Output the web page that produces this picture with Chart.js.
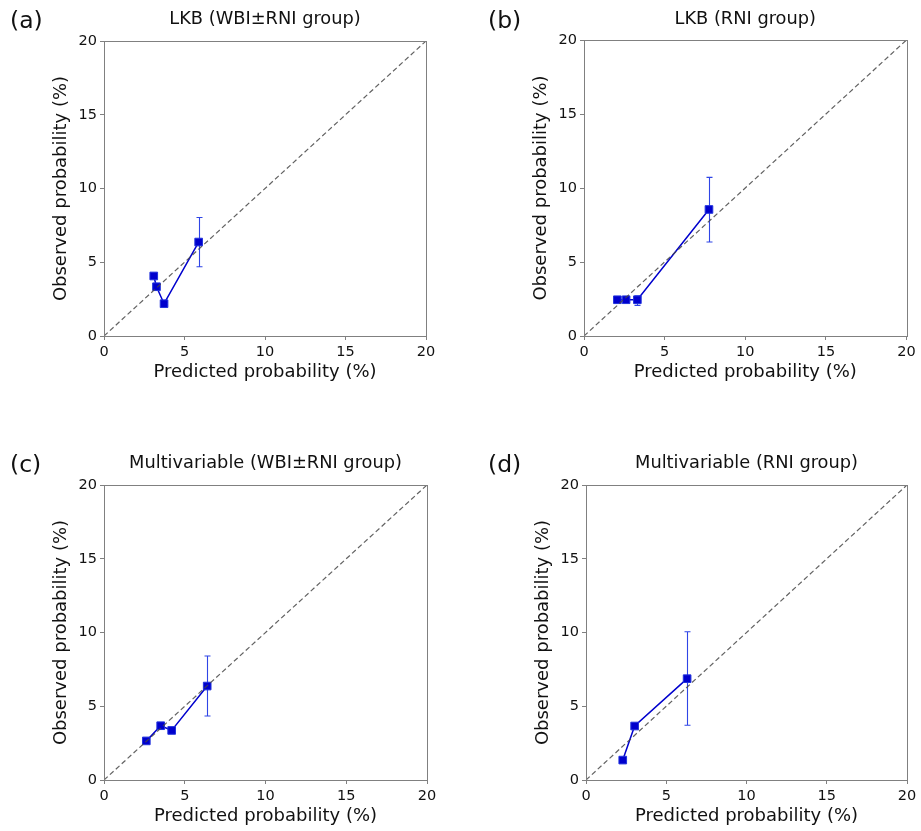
<!DOCTYPE html>
<html>
<head>
<meta charset="utf-8">
<script src="https://cdn.jsdelivr.net/npm/chart.js@4/dist/chart.umd.min.js"></script>
<style>
  html, body { margin: 0; padding: 0; background: #fff; }
  #wrap { position: relative; width: 921px; height: 831px; overflow: hidden; }
  .panel { position: absolute; }
</style>
</head>
<body>
<div id="wrap">
  <div class="panel" style="left:0;top:0;width:460px;height:400px"><canvas id="chartA"></canvas></div>
  <div class="panel" style="left:460px;top:0;width:461px;height:400px"><canvas id="chartB"></canvas></div>
  <div class="panel" style="left:0;top:444px;width:460px;height:387px"><canvas id="chartC"></canvas></div>
  <div class="panel" style="left:460px;top:444px;width:461px;height:387px"><canvas id="chartD"></canvas></div>
</div>
<script>
(() => {
  // values (percent)
  const lkbAllPred = [3.09, 3.26, 3.73, 5.88];
  const lkbAllObs = [4.07, 3.34, 2.19, 6.37];
  const lkbAllLo = [4.0, 3.25, 2.1, 4.7];
  const lkbAllHi = [4.15, 3.45, 2.3, 8.03];

  const lkbRniPred = [2.07, 2.61, 3.31, 7.75];
  const lkbRniObs = [2.45, 2.45, 2.45, 8.55];
  const lkbRniLo = [2.4, 2.4, 2.07, 6.35];
  const lkbRniHi = [2.5, 2.5, 2.72, 10.72];

  const mvAllPred = [2.62, 3.51, 4.19, 6.39];
  const mvAllObs = [2.65, 3.68, 3.36, 6.37];
  const mvAllLo = [2.5, 3.55, 3.3, 4.34];
  const mvAllHi = [2.8, 3.8, 3.42, 8.41];

  const mvRniPred = [2.29, 3.03, 6.3];
  const mvRniObs = [1.35, 3.66, 6.87];
  const mvRniLo = [1.2, 3.5, 3.71];
  const mvRniHi = [1.5, 3.82, 10.05];

  const refLine = [0, 20];
  const axisTicks = [0, 5, 10, 15, 20];

  const FONT = "'DejaVu Sans', Verdana, sans-serif";
  const BLUE = "#0000cd";
  const BAR = "#2f45e6";
  const SPINE = "#808080";

  const panels = [
    { id: "chartA", tag: "(a)", title: "LKB (WBI\u00b1RNI group)",
      pred: lkbAllPred, obs: lkbAllObs, lo: lkbAllLo, hi: lkbAllHi,
      w: 460, h: 400, left: 104, right: 426, top: 41, bottom: 336, tagX: 10, tagY: 22, titleY: 19 },
    { id: "chartB", tag: "(b)", title: "LKB (RNI group)",
      pred: lkbRniPred, obs: lkbRniObs, lo: lkbRniLo, hi: lkbRniHi,
      w: 461, h: 400, left: 124, right: 446.5, top: 40, bottom: 336, tagX: 28, tagY: 22, titleY: 19 },
    { id: "chartC", tag: "(c)", title: "Multivariable (WBI\u00b1RNI group)",
      pred: mvAllPred, obs: mvAllObs, lo: mvAllLo, hi: mvAllHi,
      w: 460, h: 387, left: 104, right: 427, top: 41, bottom: 336, tagX: 10, tagY: 22, titleY: 19 },
    { id: "chartD", tag: "(d)", title: "Multivariable (RNI group)",
      pred: mvRniPred, obs: mvRniObs, lo: mvRniLo, hi: mvRniHi,
      w: 461, h: 387, left: 126, right: 447, top: 41, bottom: 336, tagX: 28, tagY: 22, titleY: 19 }
  ];

  const boxAndLabels = {
    id: "boxAndLabels",
    beforeDatasetsDraw(chart) {
      const { ctx } = chart;
      const p = chart.options.plugins.boxAndLabels;
      const xs = chart.scales.x, ys = chart.scales.y;
      ctx.save();
      // error bars under the markers
      ctx.strokeStyle = BAR;
      ctx.lineWidth = 1.1;
      p.pred.forEach((v, i) => {
        const x = Math.round(xs.getPixelForValue(v)) + 0.5;
        const y1 = ys.getPixelForValue(p.lo[i]);
        const y2 = ys.getPixelForValue(p.hi[i]);
        ctx.beginPath();
        ctx.moveTo(x, y1); ctx.lineTo(x, y2);
        ctx.moveTo(x - 3, y1); ctx.lineTo(x + 3, y1);
        ctx.moveTo(x - 3, y2); ctx.lineTo(x + 3, y2);
        ctx.stroke();
      });
      ctx.restore();
    },
    afterDraw(chart) {
      const { ctx, chartArea: a } = chart;
      const p = chart.options.plugins.boxAndLabels;
      ctx.save();
      ctx.strokeStyle = SPINE;
      ctx.lineWidth = 1;
      ctx.strokeRect(Math.round(a.left) + 0.5, Math.round(a.top) + 0.5,
        Math.round(a.right - a.left), Math.round(a.bottom - a.top));
      ctx.fillStyle = "#111";
      ctx.textBaseline = "middle";
      ctx.textAlign = "left";
      ctx.font = "23.5px " + FONT;
      ctx.fillText(p.tag, p.tagX, p.tagY);
      ctx.textAlign = "center";
      ctx.font = "17.8px " + FONT;
      ctx.fillText(p.title, (a.left + a.right) / 2, p.titleY);
      ctx.restore();
    }
  };

  panels.forEach((p) => {
    const titleLh = 21;
    new Chart(document.getElementById(p.id), {
      type: "scatter",
      data: {
        datasets: [
          {
            data: refLine.map((v) => ({ x: v, y: v })),
            showLine: true,
            borderColor: "rgba(70, 70, 70, 0.85)",
            borderWidth: 1.2,
            borderDash: [5, 3],
            pointRadius: 0
          },
          {
            data: p.pred.map((v, i) => ({ x: v, y: p.obs[i] })),
            showLine: true,
            borderColor: BLUE,
            borderWidth: 1.5,
            pointStyle: "rect",
            pointRadius: 5.4,
            pointBackgroundColor: BLUE,
            pointBorderColor: "#2233dd",
            pointBorderWidth: 1
          }
        ]
      },
      options: {
        responsive: true,
        maintainAspectRatio: false,
        animation: false,
        events: [],
        layout: {
          padding: { left: 0, top: p.top, right: p.w - p.right, bottom: 0 }
        },
        plugins: {
          legend: { display: false },
          tooltip: { enabled: false },
          boxAndLabels: p
        },
        scales: {
          x: {
            type: "linear",
            min: 0,
            max: 20,
            afterBuildTicks(scale) { scale.ticks = axisTicks.map((v) => ({ value: v })); },
            afterFit(scale) { scale.height = p.h - p.bottom; },
            ticks: { color: "#111", font: { family: FONT, size: 14.5 }, padding: 4, maxRotation: 0 },
            grid: { drawOnChartArea: false, tickLength: 4, color: SPINE },
            border: { color: SPINE },
            title: {
              display: true,
              text: "Predicted probability (%)",
              color: "#111",
              font: { family: FONT, size: 18 },
              padding: { top: 0, bottom: (p.h - 373) - titleLh / 2 }
            }
          },
          y: {
            type: "linear",
            min: 0,
            max: 20,
            afterBuildTicks(scale) { scale.ticks = axisTicks.map((v) => ({ value: v })); },
            afterFit(scale) { scale.width = p.left; },
            ticks: { color: "#111", font: { family: FONT, size: 14.5 }, padding: 3 },
            grid: { drawOnChartArea: false, tickLength: 4, color: SPINE },
            border: { color: SPINE },
            title: {
              display: true,
              text: "Observed probability (%)",
              color: "#111",
              font: { family: FONT, size: 18 },
              padding: { top: p.left - 43 - titleLh / 2, bottom: 0 }
            }
          }
        }
      },
      plugins: [boxAndLabels]
    });
  });
})();
</script>
</body>
</html>
